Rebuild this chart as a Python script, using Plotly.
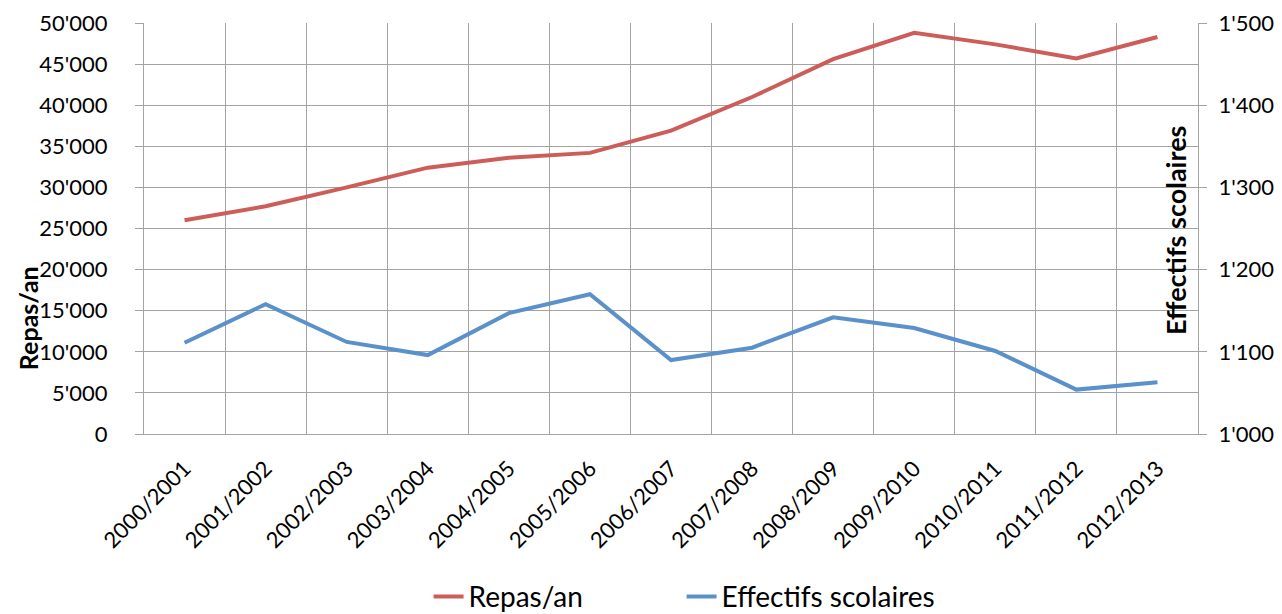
"""Repas/an vs effectifs scolaires, dual-axis line chart."""

import plotly.graph_objects as go

YEARS = [
    "2000/2001", "2001/2002", "2002/2003", "2003/2004", "2004/2005",
    "2005/2006", "2006/2007", "2007/2008", "2008/2009", "2009/2010",
    "2010/2011", "2011/2012", "2012/2013",
]
REPAS = [26000, 27700, 30000, 32400, 33600, 34200, 36900,
         41000, 45600, 48800, 47400, 45700, 48300]
EFFECTIFS = [1111, 1158, 1112, 1096, 1147, 1170, 1090,
             1105, 1142, 1129, 1101, 1054, 1063]

RED = "#CD5D59"
BLUE = "#5B91CB"
GRID = "#A3A3A3"
FONT = "Lato"

fig = go.Figure()
fig.add_trace(go.Scatter(
    x=YEARS, y=REPAS, name="Repas/an", mode="lines",
    line=dict(color=RED, width=4),
))
fig.add_trace(go.Scatter(
    x=YEARS, y=EFFECTIFS, name="Effectifs scolaires", mode="lines",
    line=dict(color=BLUE, width=4), yaxis="y2",
))

# the page body has an 8px margin, so the figure is sized to fit inside it
fig.update_layout(
    width=1274, height=606,
    margin=dict(l=136, r=84, t=15, b=180, autoexpand=False),
    paper_bgcolor="white", plot_bgcolor="white",
    separators=".'",
    font=dict(family=FONT, size=22, color="black"),
    showlegend=True,
    legend=dict(
        orientation="h", x=0.270, y=-0.396, xanchor="left", yanchor="middle",
        font=dict(size=28), entrywidth=208, entrywidthmode="pixels",
        bgcolor="rgba(0,0,0,0)",
    ),
    xaxis=dict(
        type="category", tickson="boundaries", tickangle=-45,
        showgrid=True, gridcolor=GRID, gridwidth=1.2,
        showline=True, linecolor=GRID, linewidth=1.2,
        ticks="", ticklabelstandoff=12, automargin=False,
        range=[-0.5, len(YEARS) - 0.5],
    ),
    yaxis=dict(
        range=[0, 50000], dtick=5000, tickformat=",d",
        showgrid=True, gridcolor=GRID, gridwidth=1.2,
        showline=True, linecolor=GRID, linewidth=1.2,
        ticks="outside", ticklen=8, tickcolor=GRID, tickwidth=1.2,
        ticklabelstandoff=23, zeroline=False, automargin=False,
    ),
    yaxis2=dict(
        range=[1000, 1500], dtick=100, tickformat=",d",
        overlaying="y", side="right", showgrid=False,
        showline=True, linecolor=GRID, linewidth=1.2,
        ticks="outside", ticklen=8, tickcolor=GRID, tickwidth=1.2,
        ticklabelstandoff=7, zeroline=False, automargin=False,
    ),
)

fig.add_annotation(
    text="<b>Repas/an</b>", textangle=-90, showarrow=False,
    xref="paper", yref="paper", x=-0.110, y=0.282,
    xanchor="center", yanchor="middle",
    font=dict(size=25, family=FONT),
)
fig.add_annotation(
    text="<b>Effectifs scolaires</b>", textangle=-90, showarrow=False,
    xref="paper", yref="paper", x=0.978, y=0.496,
    xanchor="center", yanchor="middle",
    font=dict(size=27, family=FONT),
)

fig.write_html("out.html")
